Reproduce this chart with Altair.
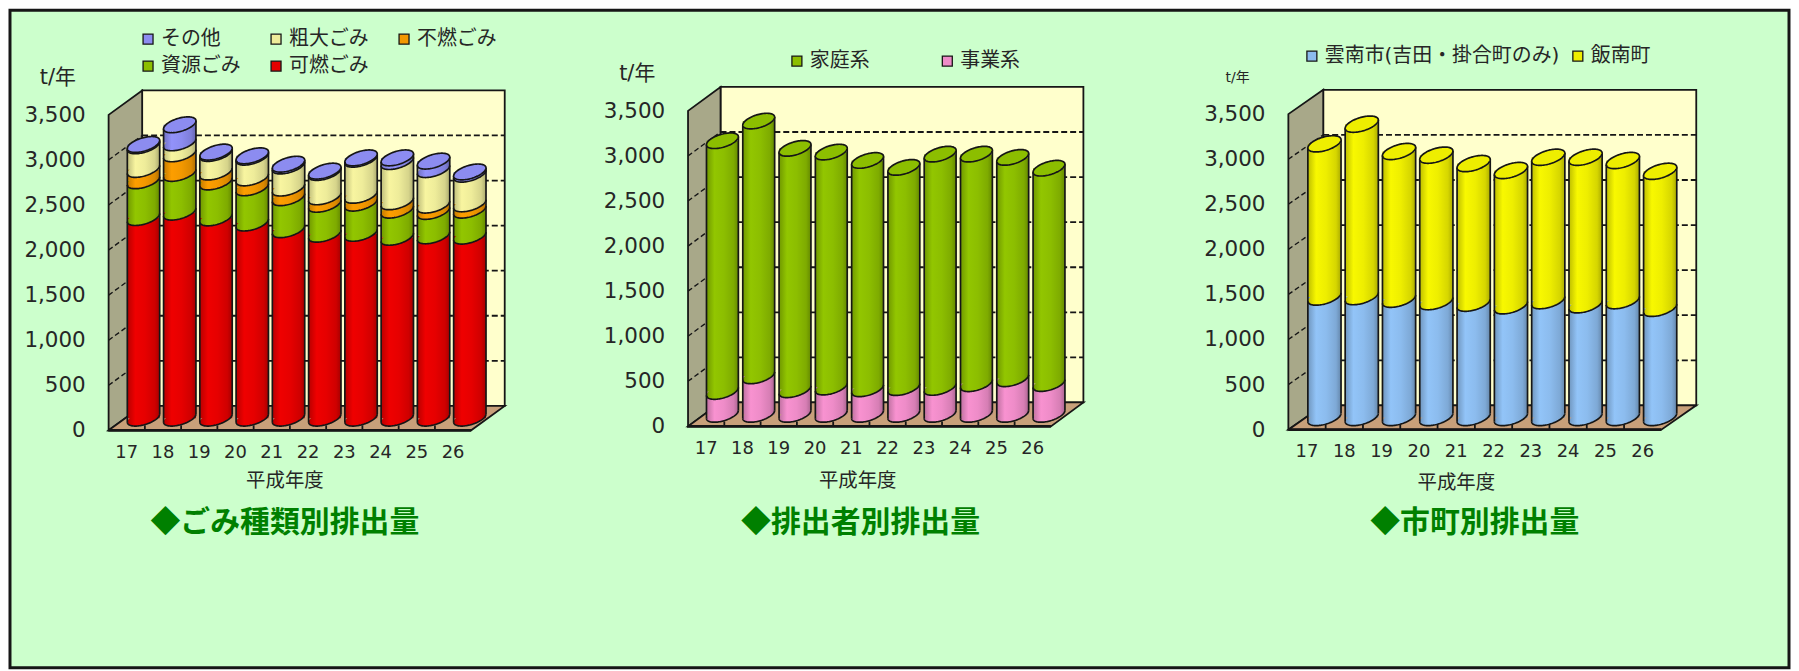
import math
import altair as alt
import pandas as pd

# ---------------- data ----------------
years = ["17", "18", "19", "20", "21", "22", "23", "24", "25", "26"]

# panel 1 : ごみ種類別 (bottom -> top)
kanen_gomi  = [2225, 2285, 2221, 2164, 2090, 2040, 2050, 2006, 2022, 2019]
shigen_gomi = [408, 430, 399, 391, 355, 332, 335, 301, 271, 288]
funen_gomi  = [126, 217, 110, 110, 107, 83, 87, 93, 70, 70]
sodai_gomi  = [262, 122, 206, 230, 245, 270, 400, 446, 394, 329]
sonota      = [15, 200, 15, 15, 20, 15, 15, 41, 94, 25]

# panel 2 : 排出者別
jigyo = [254, 427, 273, 303, 284, 297, 299, 340, 395, 342]
katei = [2782, 2827, 2678, 2607, 2533, 2443, 2588, 2547, 2456, 2389]

# panel 3 : 市町別
unnan = [1336, 1341, 1312, 1285, 1268, 1239, 1296, 1250, 1296, 1211]
iinan = [1700, 1913, 1639, 1625, 1549, 1501, 1591, 1637, 1555, 1520]

y_ticks = [0, 500, 1000, 1500, 2000, 2500, 3000, 3500]
y_tick_labels = ["0", "500", "1,000", "1,500", "2,000", "2,500", "3,000", "3,500"]
grid_levels = [500, 1000, 1500, 2000, 2500, 3000]
AXIS_MAX = 3500

titles = ["◆ごみ種類別排出量", "◆排出者別排出量", "◆市町別排出量"]
x_title = "平成年度"
y_unit = "t/年"

# ---------------- styles ----------------
RED, GREEN, ORANGE, CREAM, PURPLE = "#E60000", "#8CBE00", "#F39800", "#EEEC9A", "#8C8CF0"
PINK, BLUE, YELLOW = "#EE8CC8", "#8CBCEE", "#EEEE00"
BG, WALL, SIDE, FLOOR, INK = "#CCFFCC", "#FFFFCC", "#A8A889", "#C8A07A", "#161616"
TXT = "#262626"
FONT = "DejaVu Sans, Noto Sans CJK JP, sans-serif"
JFONT = "Noto Sans CJK JP, DejaVu Sans, sans-serif"

PX_X = 36.4     # pixels per category unit
PX_Y = 0.0905   # pixels per tonne
W, H = 1786, 660
X_MIN, X_MAX = -2.7198, -2.7198 + W / PX_X
Y_MAX = 421.7 / PX_Y
Y_MIN = Y_MAX - H / PX_Y

panels = [
    dict(x0=0.0, y0=0.0, cw=1.0, dx=0.925, dy=271.0, bw=0.893,
         series=[("可燃ごみ", kanen_gomi, RED), ("資源ごみ", shigen_gomi, GREEN),
                 ("不燃ごみ", funen_gomi, ORANGE), ("粗大ごみ", sodai_gomi, CREAM),
                 ("その他", sonota, PURPLE)],
         legend=["その他", "粗大ごみ", "不燃ごみ", "資源ごみ", "可燃ごみ"],
         lcols=3, lx=128.6, ly=19, lcp=25.5, unit_fs=21,
         xt=4.863, xty=-567, tx=4.863),
    dict(x0=15.981, y0=44.2, cw=1.0008, dx=0.896, dy=265.2, bw=0.879,
         series=[("事業系", jigyo, PINK), ("家庭系", katei, GREEN)],
         legend=["家庭系", "事業系"],
         lcols=2, lx=780, ly=41, lcp=68, unit_fs=21,
         xt=20.66, xty=-567, tx=20.74),
    dict(x0=32.538, y0=7.7, cw=1.0288, dx=0.962, dy=269.6, bw=0.915,
         series=[("雲南市(吉田・掛合町のみ)", unnan, BLUE), ("飯南町", iinan, YELLOW)],
         legend=["雲南市(吉田・掛合町のみ)", "飯南町"],
         lcols=2, lx=1297, ly=36, lcp=8, unit_fs=14,
         xt=37.17, xty=-589, tx=37.68),
]
TITLE_Y = -1023


def shade(c, f):
    r, g, b = int(c[1:3], 16), int(c[3:5], 16), int(c[5:7], 16)
    return "#%02x%02x%02x" % tuple(max(0, min(255, int(round(v * f)))) for v in (r, g, b))


def grad(c):
    return alt.LinearGradient(
        gradient="linear", x1=0, x2=1, y1=0, y2=0,
        stops=[alt.GradientStop(color=shade(c, 0.8), offset=0),
               alt.GradientStop(color=shade(c, 1.04), offset=0.25),
               alt.GradientStop(color=c, offset=0.55),
               alt.GradientStop(color=shade(c, 0.9), offset=0.85),
               alt.GradientStop(color=shade(c, 0.72), offset=1)])


# tilted ellipse used for the cylinder caps
EA, EB, EC = 0.86, 0.51, 0.49
T0 = math.degrees(math.atan2(EB, EA))


def ell_path(t1, t2, n, close):
    pts = []
    for i in range(n + 1):
        t = math.radians(t1 + (t2 - t1) * i / n)
        pts.append((EA * math.cos(t) + EB * math.sin(t), -EC * math.sin(t)))
    s = "M %.4f %.4f " % pts[0] + " ".join("L %.4f %.4f" % p for p in pts[1:])
    return s + (" Z" if close else "")


ELL = ell_path(0, 360, 90, True)
ARC = ell_path(T0 + 180, T0 + 360, 48, False)

xs = alt.Scale(domain=[X_MIN, X_MAX], nice=False, zero=False)
ys = alt.Scale(domain=[Y_MIN, Y_MAX], nice=False, zero=False)


def X(f):
    return alt.X(f"{f}:Q", scale=xs, axis=None)


def Y(f):
    return alt.Y(f"{f}:Q", scale=ys, axis=None)


layers = []

# ---------------- 3D box: walls, floor, grid ----------------
back, side, floor, gback, gside, ticks, front = [], [], [], [], [], [], []
for k, p in enumerate(panels):
    x0, y0, cw, dx, dy = p["x0"], p["y0"], p["cw"], p["dx"], p["dy"]
    xe = x0 + 10 * cw
    back.append(dict(x=x0 + dx, x2=xe + dx, y=y0 + dy, y2=y0 + dy + AXIS_MAX))
    side += [dict(pn=k, x=x0, y=y0, y2=y0 + AXIS_MAX),
             dict(pn=k, x=x0 + dx, y=y0 + dy, y2=y0 + dy + AXIS_MAX)]
    floor += [dict(pn=k, x=x0, y=y0, y2=y0), dict(pn=k, x=x0 + dx, y=y0, y2=y0 + dy),
              dict(pn=k, x=xe, y=y0, y2=y0 + dy), dict(pn=k, x=xe + dx, y=y0 + dy, y2=y0 + dy)]
    for g in grid_levels:
        gback.append(dict(x=x0 + dx, x2=xe + dx, y=y0 + dy + g))
        gside.append(dict(x=x0, x2=x0 + dx, y=y0 + g, y2=y0 + dy + g))
    for i in range(1, 10):
        ticks.append(dict(x=x0 + i * cw, y=y0, y2=y0 + 55))
    front.append(dict(x=x0, x2=xe, y=y0))

layers.append(alt.Chart(pd.DataFrame(back)).mark_rect(
    fill=WALL, stroke=INK, strokeWidth=1.8, opacity=1).encode(
    x=X("x"), x2="x2", y=Y("y"), y2="y2"))
layers.append(alt.Chart(pd.DataFrame(side)).mark_area(
    fill=SIDE, stroke=INK, strokeWidth=1.8, opacity=1).encode(
    x=X("x"), y=Y("y"), y2="y2", detail="pn:N"))
layers.append(alt.Chart(pd.DataFrame(floor)).mark_area(
    fill=FLOOR, stroke=INK, strokeWidth=1.8, opacity=1).encode(
    x=X("x"), y=Y("y"), y2="y2", detail="pn:N"))
layers.append(alt.Chart(pd.DataFrame(gback)).mark_rule(
    stroke=INK, strokeWidth=1.8, strokeDash=[6, 3]).encode(x=X("x"), x2="x2", y=Y("y")))
layers.append(alt.Chart(pd.DataFrame(gside)).mark_rule(
    stroke=INK, strokeWidth=1.4, strokeDash=[5, 3]).encode(x=X("x"), x2="x2", y=Y("y"), y2="y2"))
layers.append(alt.Chart(pd.DataFrame(ticks)).mark_rule(
    stroke=INK, strokeWidth=1.8).encode(x=X("x"), y=Y("y"), y2="y2"))
layers.append(alt.Chart(pd.DataFrame(front)).mark_rule(
    stroke=INK, strokeWidth=2.6).encode(x=X("x"), x2="x2", y=Y("y")))

# ---------------- cylinders ----------------
def geom(p, i):
    xc = p["x0"] + (i + 0.5) * p["cw"] + p["dx"] / 2
    return xc - p["bw"] / 2, xc, xc + p["bw"] / 2


def lvl(p, v):
    return p["y0"] + p["dy"] / 2 + v


max_seg = max(len(p["series"]) for p in panels)
for s in range(max_seg):
    for p in panels:
        if s >= len(p["series"]):
            continue
        name, vals, col = p["series"][s]
        rows = []
        for i in range(10):
            below = sum(p["series"][j][1][i] for j in range(s))
            xl, xc, xr = geom(p, i)
            rows.append(dict(xl=xl, xc=xc, xr=xr, yb=lvl(p, below), yt=lvl(p, below + vals[i]),
                             sz=(p["bw"] * PX_X) ** 2))
        df = pd.DataFrame(rows)
        g = grad(col)
        layers.append(alt.Chart(df).mark_point(
            shape=ELL, filled=True, fill=g, strokeWidth=0, opacity=1).encode(
            x=X("xc"), y=Y("yb"), size=alt.Size("sz:Q", scale=None)))
        layers.append(alt.Chart(df).mark_bar(fill=g, strokeWidth=0, opacity=1).encode(
            x=X("xl"), x2="xr", y=Y("yb"), y2="yt"))

arcs, sides, caps = [], [], []
for p in panels:
    for i in range(10):
        xl, xc, xr = geom(p, i)
        bwpx = p["bw"] * PX_X
        toff = 0.25 * (bwpx / 2) / PX_Y
        cum = 0
        for (name, vals, col) in p["series"]:
            arcs.append(dict(x=xc, y=lvl(p, cum), sz=bwpx ** 2))
            cum += vals[i]
        sides.append(dict(x=xl, y=lvl(p, 0) - toff, y2=lvl(p, cum) - toff))
        sides.append(dict(x=xr, y=lvl(p, 0) + toff, y2=lvl(p, cum) + toff))
        caps.append(dict(x=xc, y=lvl(p, cum), sz=bwpx ** 2, col=p["series"][-1][2]))

layers.append(alt.Chart(pd.DataFrame(arcs)).mark_point(
    shape=ARC, filled=False, stroke=INK, strokeWidth=1.7, opacity=1).encode(
    x=X("x"), y=Y("y"), size=alt.Size("sz:Q", scale=None)))
layers.append(alt.Chart(pd.DataFrame(sides)).mark_rule(
    stroke=INK, strokeWidth=1.7).encode(x=X("x"), y=Y("y"), y2="y2"))
layers.append(alt.Chart(pd.DataFrame(caps)).mark_point(
    shape=ELL, filled=True, stroke=INK, strokeWidth=1.7, opacity=1).encode(
    x=X("x"), y=Y("y"), size=alt.Size("sz:Q", scale=None), fill=alt.Fill("col:N", scale=None)))

# ---------------- texts ----------------
ylab, xlab, unit, xtit, tit = [], [], [], [], []
for k, p in enumerate(panels):
    for v, t in zip(y_ticks, y_tick_labels):
        ylab.append(dict(x=p["x0"], y=p["y0"] + v, t=t))
    for i, yr in enumerate(years):
        xlab.append(dict(x=p["x0"] + (i + 0.5) * p["cw"], y=p["y0"], t=yr))
    unit.append(dict(x=p["x0"], y=p["y0"] + AXIS_MAX, t=y_unit, fs=p["unit_fs"]))
    xtit.append(dict(x=p["xt"], y=p["xty"], t=x_title))
    tit.append(dict(x=p["tx"], y=TITLE_Y, t=titles[k]))

layers.append(alt.Chart(pd.DataFrame(ylab)).mark_text(
    align="right", baseline="middle", dx=-23, dy=1, font=FONT, fontSize=21.5, color=TXT).encode(
    x=X("x"), y=Y("y"), text="t:N"))
layers.append(alt.Chart(pd.DataFrame(xlab)).mark_text(
    align="center", baseline="middle", dy=22.5, font=FONT, fontSize=18, color=TXT).encode(
    x=X("x"), y=Y("y"), text="t:N"))
layers.append(alt.Chart(pd.DataFrame(unit)).mark_text(
    align="center", baseline="middle", dx=-51, dy=-36.5, font=FONT, color=TXT).encode(
    x=X("x"), y=Y("y"), text="t:N", size=alt.Size("fs:Q", scale=None)))
layers.append(alt.Chart(pd.DataFrame(xtit)).mark_text(
    align="center", baseline="middle", font=FONT, fontSize=19.5, color=TXT).encode(
    x=X("x"), y=Y("y"), text="t:N"))
layers.append(alt.Chart(pd.DataFrame(tit)).mark_text(
    align="center", baseline="middle", font=JFONT, fontSize=30, fontWeight="bold",
    color="#008000").encode(x=X("x"), y=Y("y"), text="t:N"))

# ---------------- legends ----------------
for k, p in enumerate(panels):
    colors = {n: c for (n, v, c) in p["series"]}
    order = p["legend"]
    fld = f"n{k}"
    df = pd.DataFrame({fld: order, "x": [p["x0"]] * len(order), "y": [p["y0"]] * len(order)})
    layers.append(alt.Chart(df).mark_square(opacity=0, size=100).encode(
        x=X("x"), y=Y("y"),
        color=alt.Color(f"{fld}:N",
                        scale=alt.Scale(domain=order, range=[colors[n] for n in order]),
                        legend=alt.Legend(
                            title=None, orient="none", legendX=p["lx"], legendY=p["ly"],
                            direction="horizontal", columns=p["lcols"],
                            columnPadding=p["lcp"], rowPadding=7, padding=0,
                            symbolType="square", symbolSize=100, symbolOpacity=1,
                            symbolStrokeColor=INK, symbolStrokeWidth=1.3,
                            labelFont=FONT, labelFontSize=20, labelColor=TXT,
                            labelOffset=3, labelLimit=400))))

chart = alt.layer(*layers).resolve_scale(color="independent").properties(
    width=W, height=H,
    padding={"left": 2, "top": 1, "right": 2, "bottom": 2},
    autosize=alt.AutoSizeParams(type="none"),
    background="white",
).configure_view(fill=BG, stroke=INK, strokeWidth=3)

chart.save("out.html", embed_options={"renderer": "svg", "actions": False})
